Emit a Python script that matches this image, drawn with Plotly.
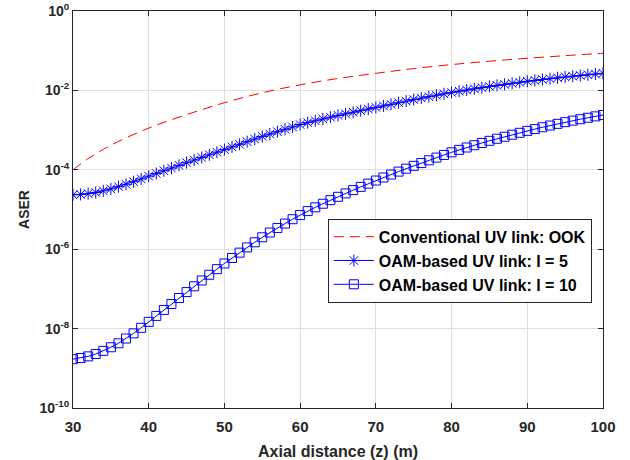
import plotly.graph_objects as go

# ---- data (log10 of ASER) ----
z = list(range(30, 101))

ook_z = [30, 32, 35, 40, 45, 50, 55, 60, 65, 70, 75, 80, 85, 90, 95, 100]
ook_log = [-4.00, -3.72, -3.38, -2.95, -2.61, -2.31, -2.06, -1.86, -1.70, -1.57,
           -1.45, -1.35, -1.265, -1.19, -1.125, -1.065]

l5_log = [-4.63, -4.62, -4.60, -4.57, -4.53, -4.48, -4.425, -4.365, -4.30, -4.23,
          -4.16, -4.092, -4.024, -3.956, -3.888, -3.82, -3.754, -3.688, -3.622, -3.556,
          -3.49, -3.424, -3.358, -3.292, -3.226, -3.16, -3.10, -3.04, -2.98, -2.92,
          -2.86, -2.812, -2.766, -2.72, -2.675, -2.63, -2.59, -2.55, -2.51, -2.47,
          -2.43, -2.39, -2.35, -2.31, -2.27, -2.23, -2.194, -2.158, -2.122, -2.086,
          -2.05, -2.02, -1.99, -1.96, -1.93, -1.90, -1.874, -1.848, -1.822, -1.796,
          -1.77, -1.748, -1.726, -1.704, -1.682, -1.66, -1.642, -1.624, -1.606, -1.588,
          -1.57]

l10_log = [-8.77, -8.74, -8.70, -8.64, -8.56, -8.47, -8.37, -8.25, -8.12, -7.98,
           -7.83, -7.68, -7.53, -7.38, -7.23, -7.08, -6.934, -6.788, -6.644, -6.502,
           -6.36, -6.222, -6.087, -5.955, -5.826, -5.70, -5.58, -5.465, -5.355, -5.245,
           -5.14, -5.04, -4.945, -4.855, -4.765, -4.68, -4.595, -4.512, -4.43, -4.349,
           -4.27, -4.194, -4.119, -4.045, -3.972, -3.90, -3.83, -3.761, -3.693, -3.626,
           -3.56, -3.498, -3.438, -3.38, -3.324, -3.27, -3.218, -3.167, -3.117, -3.068,
           -3.02, -2.974, -2.929, -2.885, -2.842, -2.80, -2.762, -2.725, -2.689, -2.654,
           -2.62]

y_tickvals = [1e-10, 1e-8, 1e-6, 1e-4, 1e-2, 1e0]
y_ticktext = ["10<sup>-10</sup>", "10<sup>-8</sup>", "10<sup>-6</sup>",
              "10<sup>-4</sup>", "10<sup>-2</sup>", "10<sup>0</sup>"]
x_tickvals = [30, 40, 50, 60, 70, 80, 90, 100]

names = ["Conventional UV link: OOK", "OAM-based UV link: l = 5",
         "OAM-based UV link: l = 10"]

FONT = "Liberation Sans, Arial, Helvetica, sans-serif"
BLUE = "#0000ff"
DARK = "#262626"

fig = go.Figure()
fig.add_trace(go.Scatter(
    x=ook_z, y=[10 ** v for v in ook_log], mode="lines", name=names[0],
    line=dict(color="#ff0000", width=1, dash="10px,6px", shape="spline"),
))
fig.add_trace(go.Scatter(
    x=z, y=[10 ** v for v in l5_log], mode="lines+markers", name=names[1],
    line=dict(color=BLUE, width=1),
    marker=dict(symbol="asterisk-open", size=10, color=BLUE,
                line=dict(color=BLUE, width=1)),
))
fig.add_trace(go.Scatter(
    x=z, y=[10 ** v for v in l10_log], mode="lines+markers", name=names[2],
    line=dict(color=BLUE, width=1),
    marker=dict(symbol="square-open", size=9, color=BLUE,
                line=dict(color=BLUE, width=1)),
))

axis_common = dict(
    showline=True, linecolor=DARK, linewidth=1, mirror="allticks",
    ticks="inside", ticklen=5, tickcolor=DARK,
    showgrid=True, gridcolor="#dfdfdf", gridwidth=1, zeroline=False,
    automargin=False,
)

fig.update_xaxes(
    range=[30, 100], tickvals=x_tickvals, ticklabelstandoff=5,
    tickfont=dict(family=FONT, size=15, color=DARK, weight="bold"),
    title=dict(text="Axial distance (z) (m)", standoff=12,
               font=dict(family=FONT, size=16, color=DARK, weight="bold")),
    **axis_common,
)
fig.update_yaxes(
    type="log", range=[-10, 0], tickvals=y_tickvals, ticktext=y_ticktext,
    tickfont=dict(family=FONT, size=14, color=DARK, weight="bold"),
    title=dict(text="ASER", standoff=6,
               font=dict(family=FONT, size=14, color=DARK, weight="bold")),
    **axis_common,
)

fig.update_layout(
    width=630, height=460,
    margin=dict(l=73, r=27, t=11, b=52),
    paper_bgcolor="white", plot_bgcolor="white",
    showlegend=True,
    legend=dict(
        x=0.979, y=0.265, xanchor="right", yanchor="bottom",
        bgcolor="white", bordercolor=DARK, borderwidth=1,
        font=dict(family=FONT, size=16, color="black", weight="bold"),
        tracegroupgap=0, itemwidth=40,
    ),
)

# remove the browser's default 8px body margin so the figure sits at (0, 0)
fig.write_html("out.html", config={"displayModeBar": False},
               post_script="document.body.style.margin='0px';")
